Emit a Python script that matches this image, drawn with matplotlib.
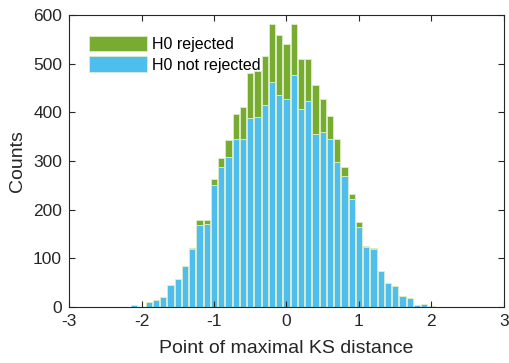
import numpy as np
import matplotlib.pyplot as plt

plt.rcParams['font.family'] = ['Liberation Sans', 'DejaVu Sans']
plt.rcParams['axes.unicode_minus'] = False

# bin centres of the histogram
centers = np.round(np.arange(-2.1, 2.01, 0.1), 1)

# counts where H0 was not rejected
not_rejected = [3, 0, 10, 14, 20, 45, 58, 84, 118, 168, 170, 251, 288, 309,
                346, 346, 389, 390, 415, 463, 435, 428, 477, 408, 424, 356,
                360, 345, 298, 270, 222, 164, 122, 119, 73, 49, 43, 23, 18,
                4, 5, 1]
# total counts (not rejected + rejected)
total = [3, 0, 10, 14, 20, 45, 58, 84, 121, 178, 178, 263, 306, 343,
         397, 412, 481, 485, 516, 582, 560, 540, 582, 510, 510, 456,
         428, 393, 345, 288, 233, 175, 125, 121, 74, 49, 43, 23, 18,
         4, 5, 1]

not_rejected = np.array(not_rejected)
rejected = np.array(total) - not_rejected

green = '#77AC30'
blue = '#4DBEEE'
edge = '#dcedc8'

fig = plt.figure(figsize=(5.09, 3.63), dpi=100)
ax = fig.add_axes([0.1356, 0.155, 0.8544, 0.803])

ax.bar(centers, not_rejected, width=0.085, color=blue, edgecolor=edge,
       linewidth=0.6, label='H0 not rejected')
ax.bar(centers, rejected, width=0.085, bottom=not_rejected, color=green,
       edgecolor=edge, linewidth=0.6, label='H0 rejected')

ax.set_xlim(-3, 3)
ax.set_ylim(0, 600)
ax.set_xticks(np.arange(-3, 4, 1))
ax.set_yticks(np.arange(0, 601, 100))
ax.tick_params(direction='in', top=True, right=True, labelsize=12.5,
               length=4, width=0.8, colors='#262626', pad=5)
for s in ax.spines.values():
    s.set_linewidth(0.8)
    s.set_color('#262626')

ax.set_xlabel('Point of maximal KS distance', fontsize=14, color='#262626',
              labelpad=8)
ax.set_ylabel('Counts', fontsize=14, color='#262626', labelpad=5)

h, l = ax.get_legend_handles_labels()
ax.legend(h[::-1], l[::-1], loc='upper left', frameon=False, fontsize=11.5,
          handlelength=3.6, handleheight=1.1, handletextpad=0.3,
          labelspacing=0.3, borderaxespad=0.6, bbox_to_anchor=(0.01, 0.985))

fig.savefig('out.png', dpi=100)
